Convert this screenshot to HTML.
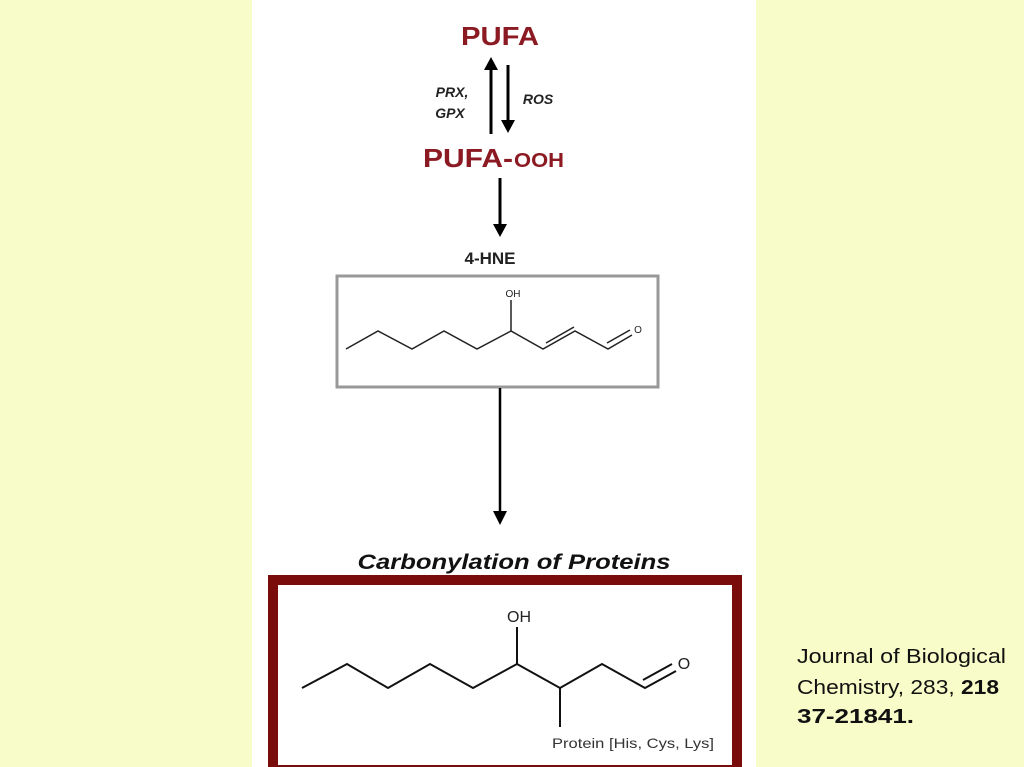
<!DOCTYPE html>
<html><head><meta charset="utf-8"><style>
html,body{margin:0;padding:0;background:#f7fcc8;}
svg{display:block}
</style></head><body>
<svg width="1024" height="767" viewBox="0 0 1024 767" xmlns="http://www.w3.org/2000/svg" font-family="Liberation Sans, sans-serif">
<rect width="1024" height="767" fill="#f7fcc8"/>
<rect x="252" y="0" width="504" height="767" fill="#ffffff"/>
<defs><marker id="ah" markerWidth="10" markerHeight="10" refX="5" refY="5" orient="auto" markerUnits="userSpaceOnUse"><path d="M0,0 L10,5 L0,10 z" fill="#000"/></marker></defs>
<text x="500" y="45" text-anchor="middle" font-size="26" font-weight="bold" fill="#8b1a22" textLength="78" lengthAdjust="spacingAndGlyphs">PUFA</text>
<line x1="491" y1="134" x2="491" y2="68" stroke="#000" stroke-width="3"/>
<path d="M484,70 L491,57 L498,70 z" fill="#000"/>
<line x1="508" y1="65" x2="508" y2="122" stroke="#000" stroke-width="3"/>
<path d="M501,120 L508,133 L515,120 z" fill="#000"/>
<text x="452" y="97" text-anchor="middle" font-size="14" font-weight="bold" font-style="italic" fill="#222">PRX,</text>
<text x="450" y="118" text-anchor="middle" font-size="14" font-weight="bold" font-style="italic" fill="#222">GPX</text>
<text x="538" y="104" text-anchor="middle" font-size="14" font-weight="bold" font-style="italic" fill="#222">ROS</text>
<text x="423" y="167" font-size="26" font-weight="bold" fill="#8b1a22" textLength="90" lengthAdjust="spacingAndGlyphs">PUFA-</text>
<text x="514" y="167" font-size="20" font-weight="bold" fill="#8b1a22" textLength="50" lengthAdjust="spacingAndGlyphs">OOH</text>
<line x1="500" y1="178" x2="500" y2="226" stroke="#000" stroke-width="3"/>
<path d="M493,224 L500,237 L507,224 z" fill="#000"/>
<text x="490" y="264" text-anchor="middle" font-size="17" font-weight="bold" fill="#222">4-HNE</text>
<rect x="337" y="276" width="321" height="111" fill="#fff" stroke="#999" stroke-width="3"/>
<polyline points="346,349 378,331 412,349 444,331 477,349 511,331 543,349 575,331 608,349 632,335" fill="none" stroke="#222" stroke-width="1.5"/>
<line x1="511" y1="331" x2="511" y2="300" stroke="#222" stroke-width="1.5"/>
<line x1="546" y1="343" x2="574" y2="327" stroke="#222" stroke-width="1.5"/>
<line x1="607" y1="343" x2="630" y2="330" stroke="#222" stroke-width="1.5"/>
<text x="513" y="297" text-anchor="middle" font-size="10" fill="#222">OH</text>
<text x="638" y="333" text-anchor="middle" font-size="10" fill="#222">O</text>
<line x1="500" y1="388" x2="500" y2="512" stroke="#000" stroke-width="2.5"/>
<path d="M493,511 L500,525 L507,511 z" fill="#000"/>
<text x="514" y="569" text-anchor="middle" font-size="21" font-weight="bold" font-style="italic" fill="#111" textLength="313" lengthAdjust="spacingAndGlyphs">Carbonylation of Proteins</text>
<rect x="273" y="580" width="464" height="190" fill="#fff" stroke="#7a0c0c" stroke-width="10"/>
<polyline points="302,688 347,664 388,688 430,664 473,688 517,664 560,688 602,664 645,688 676,671" fill="none" stroke="#111" stroke-width="2"/>
<line x1="643" y1="680" x2="672" y2="664" stroke="#111" stroke-width="2"/>
<line x1="517" y1="664" x2="517" y2="627" stroke="#111" stroke-width="2"/>
<line x1="560" y1="688" x2="560" y2="727" stroke="#111" stroke-width="2"/>
<text x="519" y="622" text-anchor="middle" font-size="16" fill="#222">OH</text>
<text x="684" y="669" text-anchor="middle" font-size="16" fill="#222">O</text>
<text x="552" y="748" font-size="14" fill="#333" textLength="162" lengthAdjust="spacingAndGlyphs">Protein [His, Cys, Lys]</text>
<g font-size="20" fill="#111">
<text x="797" y="663" textLength="209" lengthAdjust="spacingAndGlyphs">Journal of Biological</text>
<text x="797" y="694" textLength="202" lengthAdjust="spacingAndGlyphs">Chemistry, 283, <tspan font-weight="bold">218</tspan></text>
<text x="797" y="723" font-weight="bold" textLength="117" lengthAdjust="spacingAndGlyphs">37-21841.</text>
</g>
</svg>
</body></html>
